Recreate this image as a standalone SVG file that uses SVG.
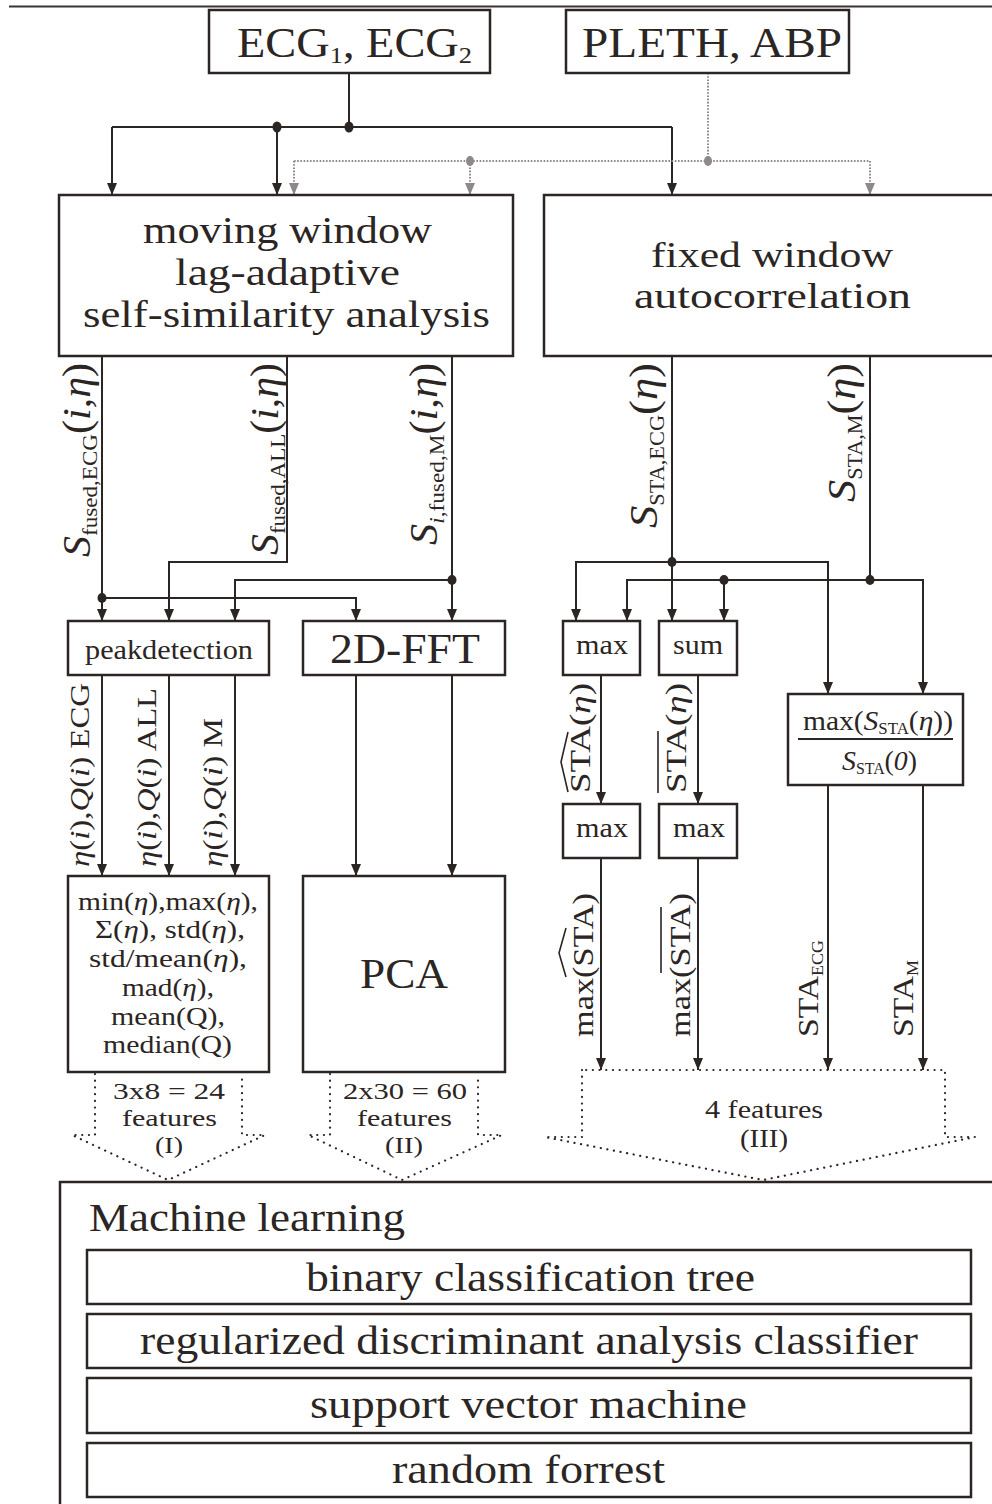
<svg xmlns="http://www.w3.org/2000/svg" width="992" height="1504" viewBox="0 0 992 1504">
<style>
.t{font-family:"Liberation Serif","Times New Roman",serif;fill:#2b2523}
.i{font-style:italic}
.box{fill:#fff;stroke:#2b2523;stroke-width:2.5}
.c{fill:none;stroke:#2b2523;stroke-width:2}
.g{fill:none;stroke:#8e8888;stroke-width:2;stroke-dasharray:1.6 1.6}
.dot{fill:#2b2523}
.gdot{fill:#8e8888}
.fd{fill:none;stroke:#2b2523;stroke-width:2.2;stroke-dasharray:0.1 6.6;stroke-linecap:round}
.acc{fill:none;stroke:#2b2523;stroke-width:1.6}
</style>
<defs>
<marker id="ah" viewBox="0 0 12 10" refX="12" refY="5" markerWidth="12" markerHeight="10" markerUnits="userSpaceOnUse" orient="auto"><path d="M0,0 L12,5 L0,10 z" fill="#2b2523"/></marker>
<marker id="ahg" viewBox="0 0 12 10" refX="12" refY="5" markerWidth="12" markerHeight="10" markerUnits="userSpaceOnUse" orient="auto"><path d="M0,0 L12,5 L0,10 z" fill="#8e8888"/></marker>
</defs>

<line x1="9" y1="6.5" x2="992" y2="6.5" stroke="#3a3533" stroke-width="2"/>

<g id="connectors">
  <path class="c" d="M349,73 V127"/>
  <path class="c" d="M112,127 H672"/>
  <path class="c" d="M112,127 V195" marker-end="url(#ah)"/>
  <path class="c" d="M277,127 V195" marker-end="url(#ah)"/>
  <path class="c" d="M672,127 V195" marker-end="url(#ah)"/>
  <path class="g" d="M708,73 V161"/>
  <path class="g" d="M294,161 H870"/>
  <path class="g" d="M294,161 V195" marker-end="url(#ahg)"/>
  <path class="g" d="M470,161 V195" marker-end="url(#ahg)"/>
  <path class="g" d="M870,161 V195" marker-end="url(#ahg)"/>

  <path class="c" d="M102,356 V621" marker-end="url(#ah)"/>
  <path class="c" d="M102,598 H356 V621" marker-end="url(#ah)"/>
  <path class="c" d="M287,356 V562 H169 V621" marker-end="url(#ah)"/>
  <path class="c" d="M452,356 V621" marker-end="url(#ah)"/>
  <path class="c" d="M452,580 H235 V621" marker-end="url(#ah)"/>

  <path class="c" d="M672,356 V621" marker-end="url(#ah)"/>
  <path class="c" d="M672,562 H576 V621" marker-end="url(#ah)"/>
  <path class="c" d="M672,562 H828 V694" marker-end="url(#ah)"/>
  <path class="c" d="M870,356 V580"/>
  <path class="c" d="M870,580 H627 V621" marker-end="url(#ah)"/>
  <path class="c" d="M724,580 V621" marker-end="url(#ah)"/>
  <path class="c" d="M870,580 H923 V694" marker-end="url(#ah)"/>

  <path class="c" d="M102,675 V876" marker-end="url(#ah)"/>
  <path class="c" d="M169,675 V876" marker-end="url(#ah)"/>
  <path class="c" d="M235,675 V876" marker-end="url(#ah)"/>
  <path class="c" d="M356,675 V876" marker-end="url(#ah)"/>
  <path class="c" d="M452,675 V876" marker-end="url(#ah)"/>

  <path class="c" d="M601,675 V804" marker-end="url(#ah)"/>
  <path class="c" d="M698,675 V804" marker-end="url(#ah)"/>
  <path class="c" d="M601,858 V1070" marker-end="url(#ah)"/>
  <path class="c" d="M698,858 V1070" marker-end="url(#ah)"/>
  <path class="c" d="M828,785 V1070" marker-end="url(#ah)"/>
  <path class="c" d="M923,785 V1070" marker-end="url(#ah)"/>

  <ellipse class="dot" cx="349" cy="127" rx="4.5" ry="5.5"/>
  <ellipse class="dot" cx="277" cy="127" rx="4.5" ry="5.5"/>
  <ellipse class="gdot" cx="470" cy="161" rx="4" ry="5"/>
  <ellipse class="gdot" cx="708" cy="161" rx="4" ry="5"/>
  <ellipse class="dot" cx="102" cy="598" rx="4.5" ry="5"/>
  <ellipse class="dot" cx="452" cy="580" rx="4.5" ry="5"/>
  <ellipse class="dot" cx="672" cy="562" rx="4.5" ry="5"/>
  <ellipse class="dot" cx="724" cy="580" rx="4.5" ry="5"/>
  <ellipse class="dot" cx="870" cy="580" rx="4.5" ry="5"/>

  <!-- connector labels -->
  <text class="t" font-size="40" transform="translate(90,557) rotate(-90)" textLength="194" lengthAdjust="spacingAndGlyphs"><tspan class="i">S</tspan><tspan font-size="22" dy="7">fused,ECG</tspan><tspan dy="-7">(</tspan><tspan class="i">i</tspan>,<tspan class="i">η</tspan>)</text>
  <text class="t" font-size="40" transform="translate(278,555) rotate(-90)" textLength="192" lengthAdjust="spacingAndGlyphs"><tspan class="i">S</tspan><tspan font-size="22" dy="7">fused,ALL</tspan><tspan dy="-7">(</tspan><tspan class="i">i</tspan>,<tspan class="i">η</tspan>)</text>
  <text class="t" font-size="40" transform="translate(437,545) rotate(-90)" textLength="182" lengthAdjust="spacingAndGlyphs"><tspan class="i">S</tspan><tspan font-size="22" dy="7" class="i">i</tspan><tspan font-size="22">,fused,M</tspan><tspan dy="-7">(</tspan><tspan class="i">i</tspan>,<tspan class="i">η</tspan>)</text>
  <text class="t" font-size="40" transform="translate(657,528) rotate(-90)" textLength="165" lengthAdjust="spacingAndGlyphs"><tspan class="i">S</tspan><tspan font-size="20" dy="7">STA,ECG</tspan><tspan dy="-7">(</tspan><tspan class="i">η</tspan>)</text>
  <text class="t" font-size="40" transform="translate(855,502) rotate(-90)" textLength="139" lengthAdjust="spacingAndGlyphs"><tspan class="i">S</tspan><tspan font-size="20" dy="7">STA,M</tspan><tspan dy="-7">(</tspan><tspan class="i">η</tspan>)</text>

  <text class="t" font-size="28" transform="translate(89,867) rotate(-90)" textLength="184" lengthAdjust="spacingAndGlyphs"><tspan class="i">η</tspan>(<tspan class="i">i</tspan>),<tspan class="i">Q</tspan>(<tspan class="i">i</tspan>) ECG</text>
  <text class="t" font-size="28" transform="translate(156,867) rotate(-90)" textLength="179" lengthAdjust="spacingAndGlyphs"><tspan class="i">η</tspan>(<tspan class="i">i</tspan>),<tspan class="i">Q</tspan>(<tspan class="i">i</tspan>) ALL</text>
  <text class="t" font-size="28" transform="translate(222,867) rotate(-90)" textLength="149" lengthAdjust="spacingAndGlyphs"><tspan class="i">η</tspan>(<tspan class="i">i</tspan>),<tspan class="i">Q</tspan>(<tspan class="i">i</tspan>) M</text>

  <text class="t" font-size="30" transform="translate(590,793) rotate(-90)" textLength="110" lengthAdjust="spacingAndGlyphs">STA(<tspan class="i">η</tspan>)</text>
  <path class="acc" d="M568,792 L561,762 L568,732"/>
  <text class="t" font-size="30" transform="translate(686,793) rotate(-90)" textLength="110" lengthAdjust="spacingAndGlyphs">STA(<tspan class="i">η</tspan>)</text>
  <path class="acc" d="M658,793 V731"/>

  <text class="t" font-size="30" transform="translate(593,1037) rotate(-90)" textLength="144" lengthAdjust="spacingAndGlyphs">max(STA)</text>
  <path class="acc" d="M566,977 L559,953 L566,928"/>
  <text class="t" font-size="30" transform="translate(690,1037) rotate(-90)" textLength="144" lengthAdjust="spacingAndGlyphs">max(STA)</text>
  <path class="acc" d="M661,973 V907"/>
  <text class="t" font-size="30" transform="translate(818,1037) rotate(-90)" textLength="97" lengthAdjust="spacingAndGlyphs">STA<tspan font-size="16" dy="5">ECG</tspan></text>
  <text class="t" font-size="30" transform="translate(913,1037) rotate(-90)" textLength="77" lengthAdjust="spacingAndGlyphs">STA<tspan font-size="16" dy="5">M</tspan></text>
</g>

<g id="ecg">
  <rect class="box" x="209" y="10" width="281" height="63"/>
  <text class="t" x="237" y="57" font-size="42" textLength="235" lengthAdjust="spacingAndGlyphs">ECG<tspan font-size="24" dy="6">1</tspan><tspan dy="-6">, ECG</tspan><tspan font-size="24" dy="6">2</tspan></text>
</g>
<g id="pleth">
  <rect class="box" x="566" y="10" width="283" height="63"/>
  <text class="t" x="582" y="57" font-size="42" textLength="260" lengthAdjust="spacingAndGlyphs">PLETH, ABP</text>
</g>
<g id="moving-window">
  <rect class="box" x="59" y="195" width="454" height="161"/>
  <text class="t" x="143" y="243" font-size="38" textLength="289" lengthAdjust="spacingAndGlyphs">moving window</text>
  <text class="t" x="175" y="285" font-size="38" textLength="225" lengthAdjust="spacingAndGlyphs">lag-adaptive</text>
  <text class="t" x="83" y="327" font-size="38" textLength="407" lengthAdjust="spacingAndGlyphs">self-similarity analysis</text>
</g>
<g id="fixed-window">
  <rect class="box" x="544" y="195" width="460" height="161"/>
  <text class="t" x="651" y="267" font-size="36" textLength="242" lengthAdjust="spacingAndGlyphs">fixed window</text>
  <text class="t" x="634" y="308" font-size="36" textLength="277" lengthAdjust="spacingAndGlyphs">autocorrelation</text>
</g>
<g id="peakdetection">
  <rect class="box" x="68" y="621" width="201" height="54"/>
  <text class="t" x="85" y="659" font-size="28" textLength="168" lengthAdjust="spacingAndGlyphs">peakdetection</text>
</g>
<g id="fft2d">
  <rect class="box" x="303" y="621" width="202" height="54"/>
  <text class="t" x="330" y="663" font-size="42" textLength="150" lengthAdjust="spacingAndGlyphs">2D-FFT</text>
</g>
<g id="max1">
  <rect class="box" x="563" y="621" width="77" height="54"/>
  <text class="t" x="576" y="654" font-size="28" textLength="52" lengthAdjust="spacingAndGlyphs">max</text>
</g>
<g id="sum">
  <rect class="box" x="659" y="621" width="78" height="54"/>
  <text class="t" x="673" y="654" font-size="28" textLength="50" lengthAdjust="spacingAndGlyphs">sum</text>
</g>
<g id="max2">
  <rect class="box" x="563" y="804" width="77" height="54"/>
  <text class="t" x="576" y="837" font-size="28" textLength="52" lengthAdjust="spacingAndGlyphs">max</text>
</g>
<g id="max3">
  <rect class="box" x="659" y="804" width="78" height="54"/>
  <text class="t" x="673" y="837" font-size="28" textLength="52" lengthAdjust="spacingAndGlyphs">max</text>
</g>
<g id="ratio">
  <rect class="box" x="788" y="694" width="175" height="91"/>
  <text class="t" x="803" y="730" font-size="28" textLength="150" lengthAdjust="spacingAndGlyphs">max(<tspan class="i">S</tspan><tspan font-size="16" dy="4">STA</tspan><tspan dy="-4">(</tspan><tspan class="i">η</tspan>))</text>
  <line x1="798" y1="739" x2="953" y2="739" stroke="#2b2523" stroke-width="1.8"/>
  <text class="t" x="842" y="770" font-size="28" textLength="75" lengthAdjust="spacingAndGlyphs"><tspan class="i">S</tspan><tspan font-size="16" dy="4">STA</tspan><tspan dy="-4">(</tspan><tspan class="i">0</tspan>)</text>
</g>
<g id="stats">
  <rect class="box" x="68" y="876" width="201" height="196"/>
  <text class="t" x="78" y="910" font-size="26" textLength="180" lengthAdjust="spacingAndGlyphs">min(<tspan class="i">η</tspan>),max(<tspan class="i">η</tspan>),</text>
  <text class="t" x="95" y="938" font-size="26" textLength="150" lengthAdjust="spacingAndGlyphs">Σ(<tspan class="i">η</tspan>), std(<tspan class="i">η</tspan>),</text>
  <text class="t" x="89" y="967" font-size="26" textLength="158" lengthAdjust="spacingAndGlyphs">std/mean(<tspan class="i">η</tspan>),</text>
  <text class="t" x="122" y="996" font-size="26" textLength="92" lengthAdjust="spacingAndGlyphs">mad(<tspan class="i">η</tspan>),</text>
  <text class="t" x="111" y="1025" font-size="26" textLength="114" lengthAdjust="spacingAndGlyphs">mean(Q),</text>
  <text class="t" x="103" y="1053" font-size="26" textLength="129" lengthAdjust="spacingAndGlyphs">median(Q)</text>
</g>
<g id="pca">
  <rect class="box" x="303" y="876" width="202" height="196"/>
  <text class="t" x="360" y="988" font-size="42" textLength="88" lengthAdjust="spacingAndGlyphs">PCA</text>
</g>
<g id="features-1">
  <polyline class="fd" points="95,1074 95,1135 72,1135 168,1180 265,1135 242,1135 242,1074"/>
  <text class="t" x="113" y="1099" font-size="24" textLength="112" lengthAdjust="spacingAndGlyphs">3x8 = 24</text>
  <text class="t" x="122" y="1126" font-size="24" textLength="95" lengthAdjust="spacingAndGlyphs">features</text>
  <text class="t" x="155" y="1153" font-size="24" textLength="28" lengthAdjust="spacingAndGlyphs">(I)</text>
</g>
<g id="features-2">
  <polyline class="fd" points="330,1074 330,1135 308,1135 402,1180 502,1135 478,1135 478,1074"/>
  <text class="t" x="343" y="1099" font-size="24" textLength="124" lengthAdjust="spacingAndGlyphs">2x30 = 60</text>
  <text class="t" x="357" y="1126" font-size="24" textLength="95" lengthAdjust="spacingAndGlyphs">features</text>
  <text class="t" x="385" y="1153" font-size="24" textLength="38" lengthAdjust="spacingAndGlyphs">(II)</text>
</g>
<g id="features-3">
  <polygon class="fd" points="582,1070 582,1137 545,1137 763,1180 975,1137 945,1137 945,1070"/>
  <text class="t" x="705" y="1118" font-size="26" textLength="118" lengthAdjust="spacingAndGlyphs">4 features</text>
  <text class="t" x="740" y="1147" font-size="26" textLength="48" lengthAdjust="spacingAndGlyphs">(III)</text>
</g>
<g id="machine-learning">
  <rect class="box" x="60" y="1182" width="950" height="340"/>
  <text class="t" x="89" y="1231" font-size="40" textLength="316" lengthAdjust="spacingAndGlyphs">Machine learning</text>
  <g id="ml-tree">
    <rect class="box" x="87" y="1250" width="884" height="54"/>
    <text class="t" x="306" y="1291" font-size="40" textLength="449" lengthAdjust="spacingAndGlyphs">binary classification tree</text>
  </g>
  <g id="ml-rda">
    <rect class="box" x="87" y="1314" width="884" height="54"/>
    <text class="t" x="140" y="1354" font-size="40" textLength="778" lengthAdjust="spacingAndGlyphs">regularized discriminant analysis classifier</text>
  </g>
  <g id="ml-svm">
    <rect class="box" x="87" y="1378" width="884" height="55"/>
    <text class="t" x="310" y="1418" font-size="40" textLength="437" lengthAdjust="spacingAndGlyphs">support vector machine</text>
  </g>
  <g id="ml-rf">
    <rect class="box" x="87" y="1443" width="884" height="54"/>
    <text class="t" x="392" y="1483" font-size="40" textLength="273" lengthAdjust="spacingAndGlyphs">random forrest</text>
  </g>
</g>
</svg>
